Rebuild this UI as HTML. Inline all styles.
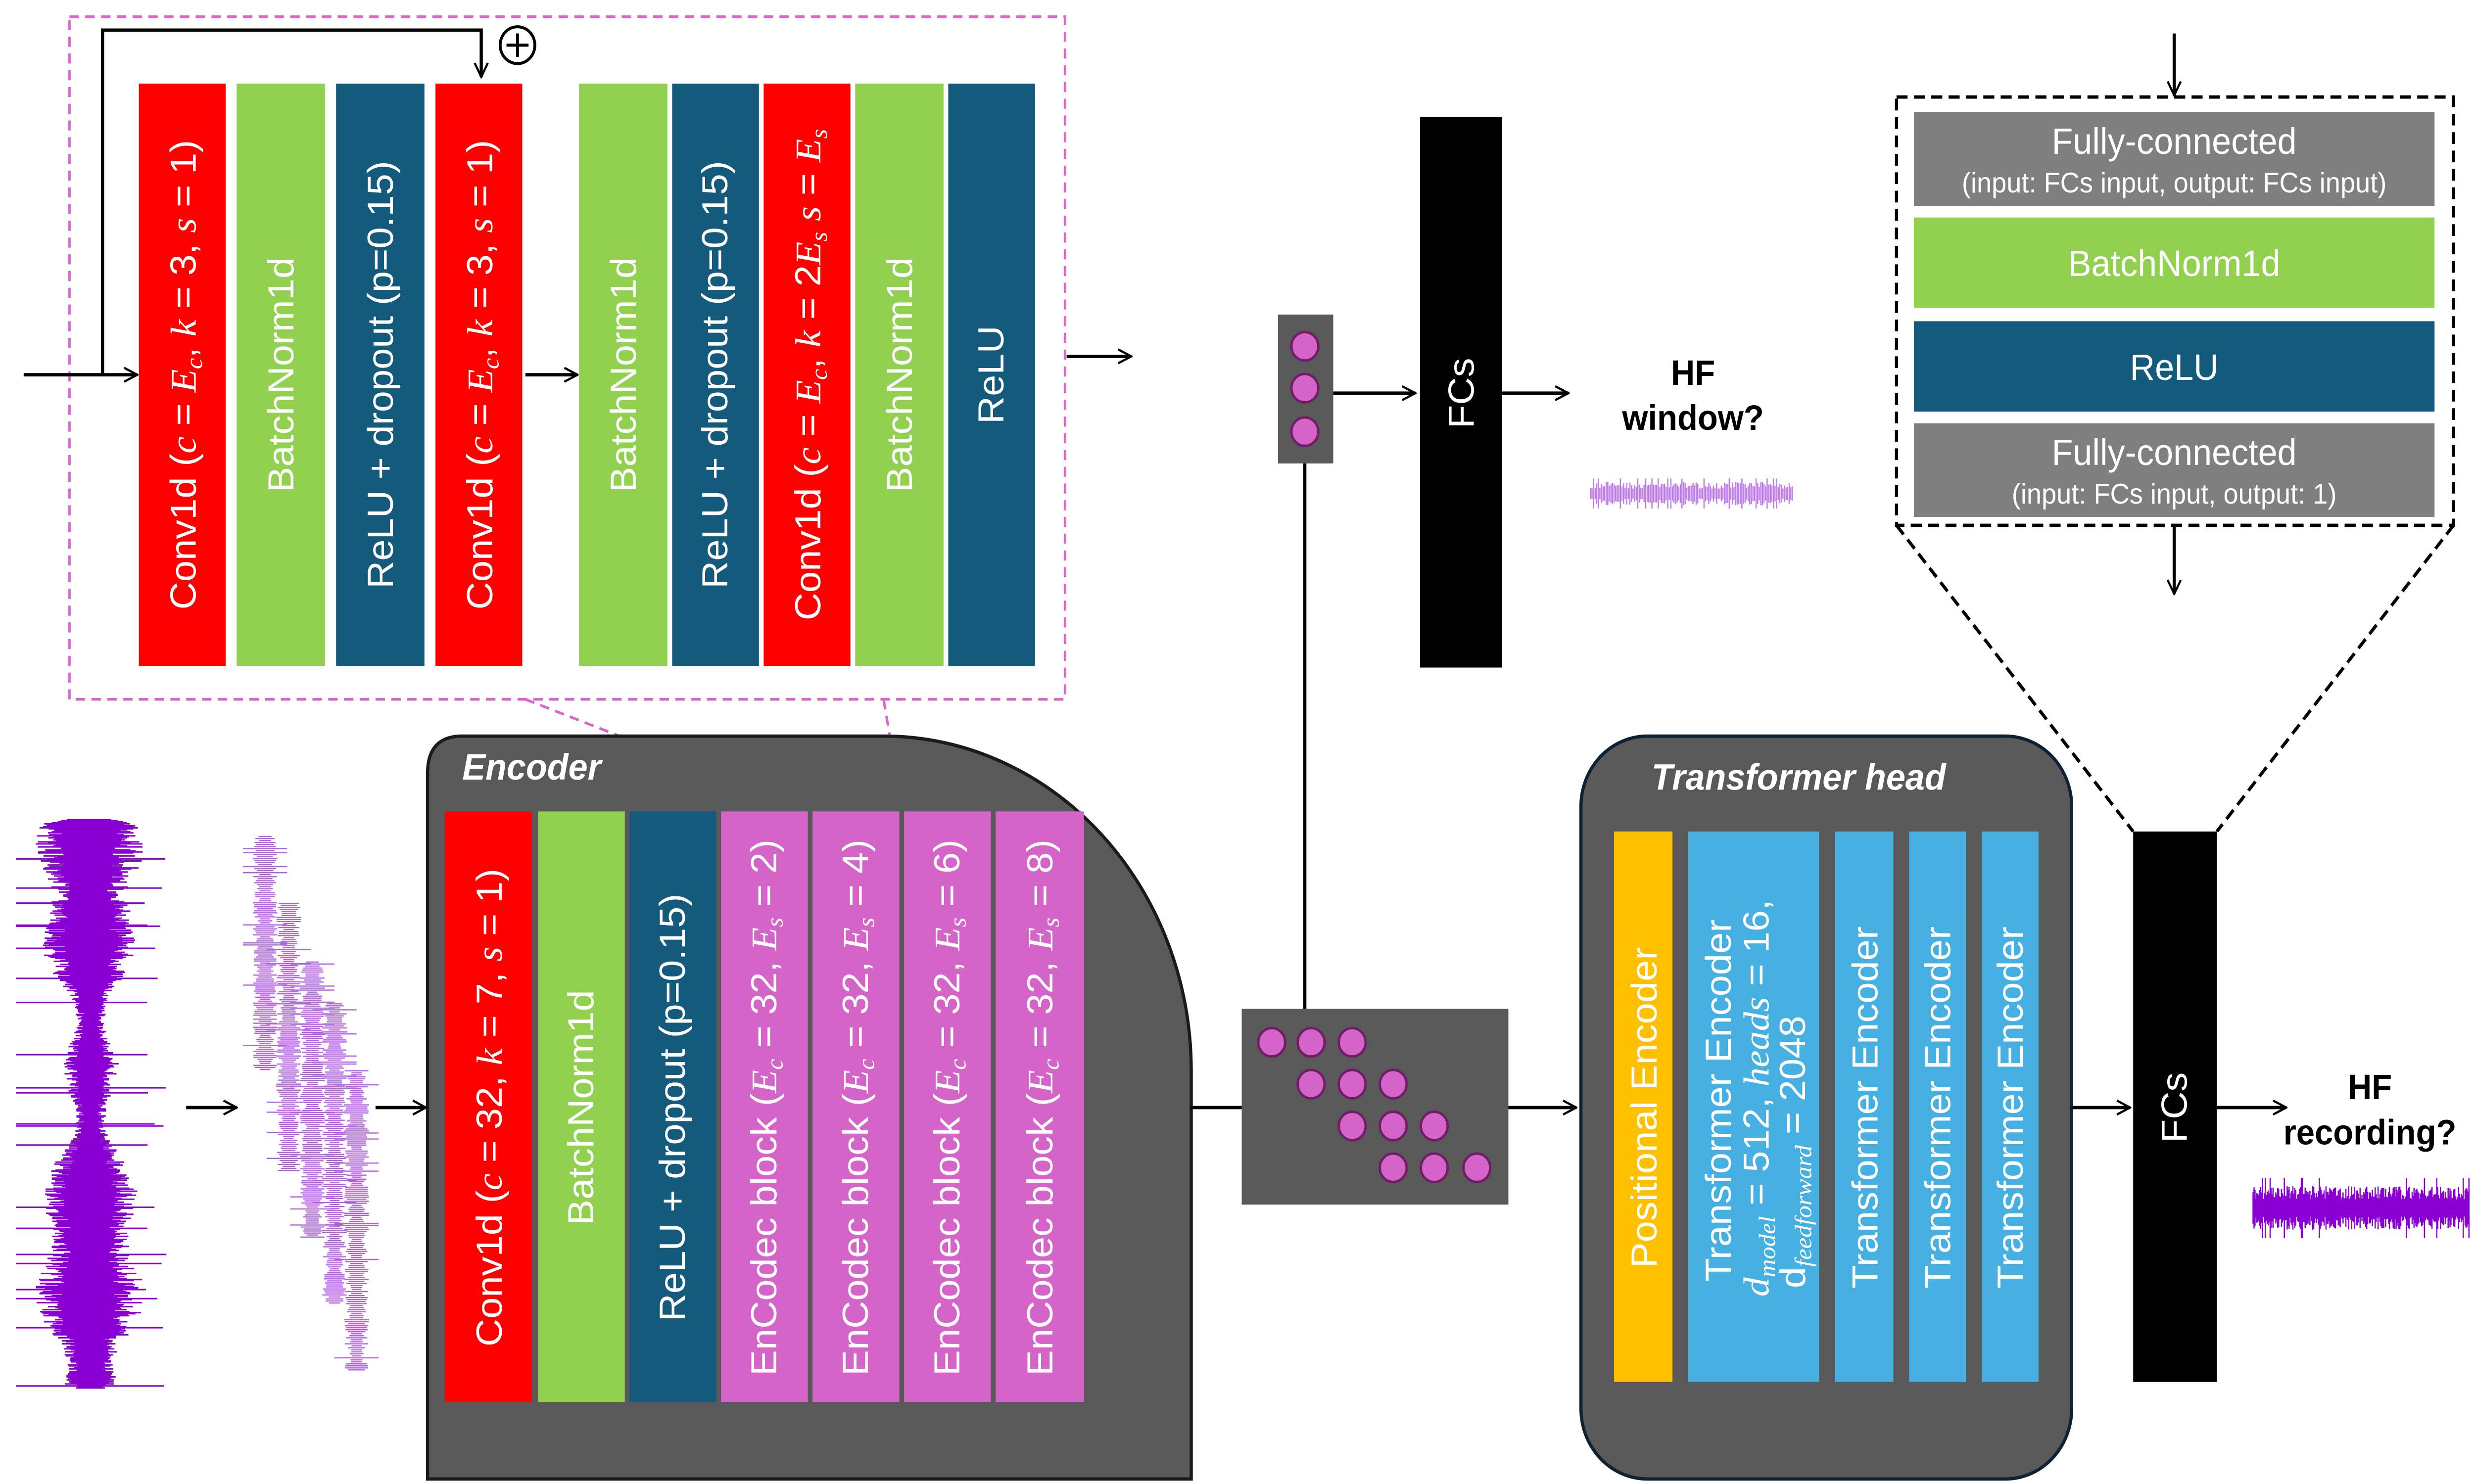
<!DOCTYPE html>
<html><head><meta charset="utf-8">
<style>
html,body{margin:0;padding:0;background:#fff;overflow:hidden;width:100%;height:100%;}
svg{display:block;width:100vw;height:100vh;}
text{font-family:"Liberation Sans",sans-serif;}
.w{fill:#fff;font-size:23px;}
.m{font-family:"Liberation Serif",serif;font-style:italic;}
</style></head>
<body>
<svg id="s" viewBox="0 0 1568 887" preserveAspectRatio="none" xmlns="http://www.w3.org/2000/svg">
<defs>
<marker id="ar" viewBox="0 0 12 12" refX="11" refY="6" markerWidth="10" markerHeight="10" markerUnits="userSpaceOnUse" orient="auto">
<path d="M1,1 L11,6 L1,11" fill="none" stroke="#000" stroke-width="1.6"/>
</marker>
</defs>

<rect x="44" y="10" width="631" height="408" fill="none" stroke="#d966c8" stroke-width="1.6" stroke-dasharray="6,4"/>
<polyline points="65,224 65,18 305,18 305,46" fill="none" stroke="#000" stroke-width="2" marker-end="url(#ar)"/>
<line x1="15" y1="224" x2="87" y2="224" stroke="#000" stroke-width="2" marker-end="url(#ar)"/>
<circle cx="328" cy="27" r="11" fill="#fff" stroke="#000" stroke-width="1.8"/>
<line x1="321" y1="27" x2="335" y2="27" stroke="#000" stroke-width="1.8"/>
<line x1="328" y1="20" x2="328" y2="34" stroke="#000" stroke-width="1.8"/>

<rect x="88" y="50" width="55" height="348" fill="#ff0000"/>
<rect x="150" y="50" width="56" height="348" fill="#92d050"/>
<rect x="213" y="50" width="56" height="348" fill="#145a7c"/>
<rect x="276" y="50" width="55" height="348" fill="#ff0000"/>
<line x1="333" y1="224" x2="366" y2="224" stroke="#000" stroke-width="2" marker-end="url(#ar)"/>
<rect x="367" y="50" width="56" height="348" fill="#92d050"/>
<rect x="426" y="50" width="55" height="348" fill="#145a7c"/>
<rect x="484" y="50" width="55" height="348" fill="#ff0000"/>
<rect x="542" y="50" width="56" height="348" fill="#92d050"/>
<rect x="601" y="50" width="55" height="348" fill="#145a7c"/>
<line x1="676" y1="213" x2="717" y2="213" stroke="#000" stroke-width="2" marker-end="url(#ar)"/>

<g class="w" text-anchor="middle">
<text transform="translate(124,224) rotate(-90)">Conv1d (<tspan class="m">c</tspan> = <tspan class="m">E<tspan font-size="15" dy="4">c</tspan></tspan><tspan dy="-4">, </tspan><tspan class="m">k</tspan> = 3, <tspan class="m">s</tspan> = 1)</text>
<text transform="translate(186,224) rotate(-90)">BatchNorm1d</text>
<text transform="translate(249,224) rotate(-90)">ReLU + dropout (p=0.15)</text>
<text transform="translate(312,224) rotate(-90)">Conv1d (<tspan class="m">c</tspan> = <tspan class="m">E<tspan font-size="15" dy="4">c</tspan></tspan><tspan dy="-4">, </tspan><tspan class="m">k</tspan> = 3, <tspan class="m">s</tspan> = 1)</text>
<text transform="translate(403,224) rotate(-90)">BatchNorm1d</text>
<text transform="translate(461,224) rotate(-90)">ReLU + dropout (p=0.15)</text>
<text transform="translate(520,224) rotate(-90)">Conv1d (<tspan class="m">c</tspan> = <tspan class="m">E<tspan font-size="15" dy="4">c</tspan></tspan><tspan dy="-4">, </tspan><tspan class="m">k</tspan> = 2<tspan class="m">E<tspan font-size="15" dy="4">s</tspan></tspan><tspan dy="-4"> </tspan><tspan class="m">s</tspan> = <tspan class="m">E<tspan font-size="15" dy="4">s</tspan></tspan></text>
<text transform="translate(578,224) rotate(-90)">BatchNorm1d</text>
<text transform="translate(636,224) rotate(-90)">ReLU</text>
</g>

<line x1="333" y1="418" x2="515" y2="485" stroke="#d966c8" stroke-width="1.6" stroke-dasharray="6,4"/>
<line x1="560" y1="418" x2="572" y2="485" stroke="#d966c8" stroke-width="1.6" stroke-dasharray="6,4"/>

<path d="M271,884 V462 Q271,440 293,440 H560 A195,200 0 0 1 755,640 V884 Z" fill="#595959" stroke="#1a1a1a" stroke-width="2"/>
<text x="293" y="466" fill="#fff" font-size="22" font-weight="bold" font-style="italic">Encoder</text>
<rect x="282" y="485" width="55" height="353" fill="#ff0000"/>
<rect x="341" y="485" width="55" height="353" fill="#92d050"/>
<rect x="399" y="485" width="55" height="353" fill="#145a7c"/>
<rect x="457" y="485" width="55" height="353" fill="#d464c8"/>
<rect x="515" y="485" width="55" height="353" fill="#d464c8"/>
<rect x="573" y="485" width="55" height="353" fill="#d464c8"/>
<rect x="631" y="485" width="56" height="353" fill="#d464c8"/>
<g class="w" text-anchor="middle">
<text transform="translate(318,662) rotate(-90)">Conv1d (<tspan class="m">c</tspan> = 32, <tspan class="m">k</tspan> = 7, <tspan class="m">s</tspan> = 1)</text>
<text transform="translate(376,662) rotate(-90)">BatchNorm1d</text>
<text transform="translate(434,662) rotate(-90)">ReLU + dropout (p=0.15)</text>
<text transform="translate(492,662) rotate(-90)">EnCodec block (<tspan class="m">E<tspan font-size="15" dy="4">c</tspan></tspan><tspan dy="-4"> = 32, </tspan><tspan class="m">E<tspan font-size="15" dy="4">s</tspan></tspan><tspan dy="-4"> = 2)</tspan></text>
<text transform="translate(550,662) rotate(-90)">EnCodec block (<tspan class="m">E<tspan font-size="15" dy="4">c</tspan></tspan><tspan dy="-4"> = 32, </tspan><tspan class="m">E<tspan font-size="15" dy="4">s</tspan></tspan><tspan dy="-4"> = 4)</tspan></text>
<text transform="translate(608,662) rotate(-90)">EnCodec block (<tspan class="m">E<tspan font-size="15" dy="4">c</tspan></tspan><tspan dy="-4"> = 32, </tspan><tspan class="m">E<tspan font-size="15" dy="4">s</tspan></tspan><tspan dy="-4"> = 6)</tspan></text>
<text transform="translate(667,662) rotate(-90)">EnCodec block (<tspan class="m">E<tspan font-size="15" dy="4">c</tspan></tspan><tspan dy="-4"> = 32, </tspan><tspan class="m">E<tspan font-size="15" dy="4">s</tspan></tspan><tspan dy="-4"> = 8)</tspan></text>
</g>

<line x1="118" y1="662" x2="150" y2="662" stroke="#000" stroke-width="2" marker-end="url(#ar)"/>
<line x1="238" y1="662" x2="270" y2="662" stroke="#000" stroke-width="2" marker-end="url(#ar)"/>

<g id="waves"></g>

<line x1="755" y1="662" x2="787" y2="662" stroke="#000" stroke-width="2"/>
<rect x="787" y="603" width="169" height="117" fill="#595959"/>
<line x1="956" y1="662" x2="999" y2="662" stroke="#000" stroke-width="2" marker-end="url(#ar)"/>
<line x1="827" y1="603" x2="827" y2="277" stroke="#000" stroke-width="2"/>
<rect x="810" y="188" width="35" height="89" fill="#595959"/>
<line x1="845" y1="235" x2="897" y2="235" stroke="#000" stroke-width="2" marker-end="url(#ar)"/>
<rect x="900" y="70" width="52" height="329" fill="#000"/>
<text transform="translate(934,235) rotate(-90)" class="w" text-anchor="middle">FCs</text>
<line x1="952" y1="235" x2="994" y2="235" stroke="#000" stroke-width="2" marker-end="url(#ar)"/>
<text x="1073" y="230" font-size="21" font-weight="bold" text-anchor="middle">HF</text>
<text x="1073" y="257" font-size="21" font-weight="bold" text-anchor="middle">window?</text>
<g fill="#d464c8" stroke="#6e1e64" stroke-width="1.5">
<circle cx="827" cy="207" r="8.5"/><circle cx="827" cy="232" r="8.5"/><circle cx="827" cy="258" r="8.5"/>
<circle cx="806" cy="623" r="8.5"/><circle cx="831" cy="623" r="8.5"/><circle cx="857" cy="623" r="8.5"/>
<circle cx="831" cy="648" r="8.5"/><circle cx="857" cy="648" r="8.5"/><circle cx="883" cy="648" r="8.5"/>
<circle cx="857" cy="673" r="8.5"/><circle cx="883" cy="673" r="8.5"/><circle cx="909" cy="673" r="8.5"/>
<circle cx="883" cy="698" r="8.5"/><circle cx="909" cy="698" r="8.5"/><circle cx="936" cy="698" r="8.5"/>
</g>

<rect x="1002" y="440" width="311" height="444" rx="42" fill="#595959" stroke="#0d2233" stroke-width="2"/>
<text x="1140" y="472" fill="#fff" font-size="22" font-weight="bold" font-style="italic" text-anchor="middle">Transformer head</text>
<rect x="1023" y="497" width="37" height="329" fill="#ffc000"/>
<rect x="1070" y="497" width="83" height="329" fill="#45b0e1"/>
<rect x="1163" y="497" width="37" height="329" fill="#45b0e1"/>
<rect x="1210" y="497" width="36" height="329" fill="#45b0e1"/>
<rect x="1256" y="497" width="36" height="329" fill="#45b0e1"/>
<g class="w">
<text transform="translate(1050,662) rotate(-90)" text-anchor="middle">Positional Encoder</text>
<text transform="translate(1097,766) rotate(-90)">Transformer Encoder</text>
<text transform="translate(1121,775) rotate(-90)"><tspan class="m">d<tspan font-size="15" dy="4">model</tspan></tspan><tspan dy="-4"> = 512, </tspan><tspan class="m">heads</tspan> = 16,</text>
<text transform="translate(1144,770) rotate(-90)">d<tspan class="m" font-size="15" dy="4">feedforward</tspan><tspan dy="-4">  = 2048</tspan></text>
<text transform="translate(1190,662) rotate(-90)" text-anchor="middle">Transformer Encoder</text>
<text transform="translate(1236,662) rotate(-90)" text-anchor="middle">Transformer Encoder</text>
<text transform="translate(1282,662) rotate(-90)" text-anchor="middle">Transformer Encoder</text>
</g>
<line x1="1313" y1="662" x2="1350" y2="662" stroke="#000" stroke-width="2" marker-end="url(#ar)"/>
<rect x="1352" y="497" width="53" height="329" fill="#000"/>
<text transform="translate(1386,662) rotate(-90)" class="w" text-anchor="middle">FCs</text>
<line x1="1405" y1="662" x2="1449" y2="662" stroke="#000" stroke-width="2" marker-end="url(#ar)"/>
<text x="1502" y="657" font-size="21" font-weight="bold" text-anchor="middle">HF</text>
<text x="1502" y="684" font-size="21" font-weight="bold" text-anchor="middle">recording?</text>

<line x1="1378" y1="20" x2="1378" y2="57" stroke="#000" stroke-width="2" marker-end="url(#ar)"/>
<rect x="1202" y="58" width="353" height="256" fill="none" stroke="#000" stroke-width="2" stroke-dasharray="7,4"/>
<rect x="1213" y="67" width="330" height="56" fill="#7f7f7f"/>
<rect x="1213" y="130" width="330" height="54" fill="#92d050"/>
<rect x="1213" y="192" width="330" height="54" fill="#145a7c"/>
<rect x="1213" y="253" width="330" height="56" fill="#7f7f7f"/>
<g fill="#fff" text-anchor="middle">
<text x="1378" y="92" font-size="22">Fully-connected</text>
<text x="1378" y="115" font-size="17">(input: FCs input, output: FCs input)</text>
<text x="1378" y="165" font-size="22">BatchNorm1d</text>
<text x="1378" y="227" font-size="22">ReLU</text>
<text x="1378" y="278" font-size="22">Fully-connected</text>
<text x="1378" y="301" font-size="17">(input: FCs input, output: 1)</text>
</g>
<line x1="1378" y1="314" x2="1378" y2="355" stroke="#000" stroke-width="2" marker-end="url(#ar)"/>
<line x1="1202" y1="314" x2="1352" y2="497" stroke="#000" stroke-width="2" stroke-dasharray="7,4"/>
<line x1="1555" y1="314" x2="1405" y2="497" stroke="#000" stroke-width="2" stroke-dasharray="7,4"/>
</svg>
<script>
(function(){
var seed=7;function r(){seed=(seed*16807)%2147483647;return seed/2147483647;}
var g=document.getElementById('waves');var ns='http://www.w3.org/2000/svg';
function path(d,c,w){var p=document.createElementNS(ns,'path');p.setAttribute('d',d);p.setAttribute('stroke',c);p.setAttribute('stroke-width',w);p.setAttribute('fill','none');g.appendChild(p);}
var d='';for(var y=490;y<830;y+=0.6){var env=22+10*Math.sin(y/37)+6*Math.sin(y/11);var a=env*(0.5+0.5*r());if(r()<0.04)a=48;d+='M'+(58-a).toFixed(1)+','+y.toFixed(1)+'H'+(58+a*(0.7+0.3*r())).toFixed(1);}
path(d,'#8a00d4',0.9);
var cs=[[168,500,640],[183,540,700],[198,575,740],[212,600,780],[226,640,820]];
cs.forEach(function(c){var d='';for(var y=c[1];y<c[2];y+=1.2){var a=3+5*r();if(r()<0.08)a=14;d+='M'+(c[0]-a).toFixed(1)+','+y.toFixed(1)+'H'+(c[0]+a).toFixed(1);}path(d,'#b35de8',0.7);});
d='';for(var x=1008;x<1137;x+=1){var a=3+4*r();if(r()<0.1)a=9;d+='M'+x+','+(295-a).toFixed(1)+'V'+(295+a).toFixed(1);}path(d,'#c07ee8',0.8);
d='';for(var x=1428;x<1565;x+=0.6){var a=5+8*r();if(r()<0.06)a=18;d+='M'+x.toFixed(1)+','+(722-a).toFixed(1)+'V'+(722+a).toFixed(1);}path(d,'#8a00d4',0.8);
})();
</script>
</body></html>
